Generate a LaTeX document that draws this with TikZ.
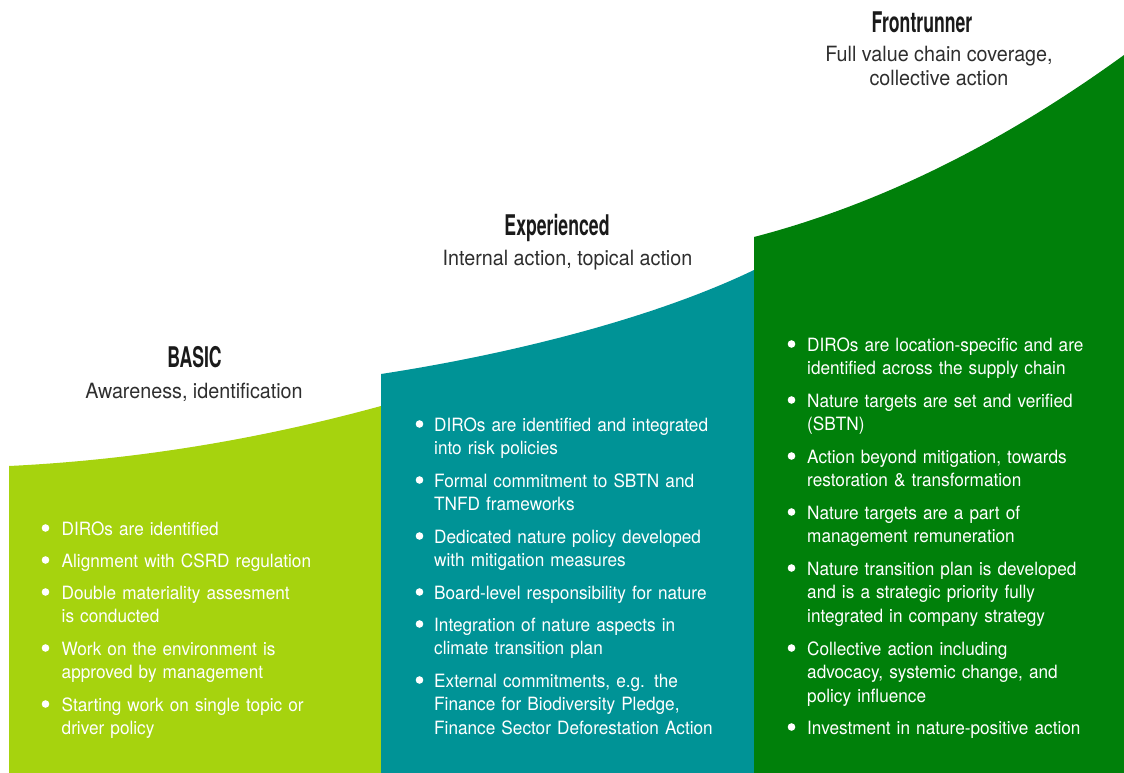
\documentclass[tikz,border=0pt]{standalone}
\usepackage{fontspec}
\setmainfont{TeX Gyre Heros}[FakeStretch=0.94]
\newfontfamily\headfont{TeX Gyre Heros}[FakeStretch=0.62]
\definecolor{limegreen}{HTML}{A6D30E}
\definecolor{tealstep}{HTML}{009396}
\definecolor{deepgreen}{HTML}{00800A}
\definecolor{inkgray}{HTML}{2E2E2E}
\definecolor{inkdark}{HTML}{1A1A1A}
\begin{document}
\begin{tikzpicture}[x=1pt,y=-1pt,
  stagetitle/.style={anchor=base,inner sep=0pt,text=inkdark,font={\headfont\bfseries\fontsize{28.5}{30}\selectfont}},
  stagesub/.style={anchor=base,inner sep=0pt,text=inkgray,font={\fontsize{21}{24}\selectfont}},
  item/.style={anchor=base west,inner sep=0pt,text=white,text width=300pt,align=left,font={\fontsize{18.3}{23.7}\selectfont}},
  dot/.style={fill=white}]
\useasboundingbox (0,0) rectangle (1124,773);

% three rising steps
\fill[limegreen] (9,773) -- (9,466) .. controls (133,460) and (257,440) .. (381,406) -- (381,773) -- cycle;
\fill[tealstep] (381,773) -- (381,374) .. controls (505,355) and (650,320) .. (754,270) -- (754,773) -- cycle;
\fill[deepgreen] (754,773) -- (754,237) .. controls (877,205) and (1000,145) .. (1124,55) -- (1124,773) -- cycle;

% stage headings
\node[stagetitle] (basic) at (194.5,367) {BASIC};
\node[stagesub] (basicsub) at (194,398) {Awareness, identification};
\node[stagetitle] (exp) at (557,235) {Experienced};
\node[stagesub] (expsub) at (567.5,265) {Internal action, topical action};
\node[stagetitle] (front) at (922,33) {Frontrunner};
\node[stagesub] (frontsubA) at (939,62) {Full value chain coverage,};
\node[stagesub] (frontsubB) at (939,86) {collective action};

% basic level items
\foreach \y/\n/\t in {535/b1/{DIROs are identified},
                      567/b2/{Alignment with CSRD regulation},
                      599/b3/{Double materiality assesment\\is conducted},
                      655/b4/{Work on the environment is\\approved by management},
                      711/b5/{Starting work on single topic or\\driver policy}}{
  \node[item] (\n) at (61.5,\y) {\t};
  \fill[dot] (45.5,\y-7) circle (3.8);
}

% experienced level items
\foreach \y/\n/\t in {431/e1/{DIROs are identified and integrated\\into risk policies},
                      487/e2/{Formal commitment to SBTN and\\TNFD frameworks},
                      543/e3/{Dedicated nature policy developed\\with mitigation measures},
                      599/e4/{Board-level responsibility for nature},
                      631/e5/{Integration of nature aspects in\\climate transition plan},
                      687/e6/{External commitments, e.g. the\\Finance for Biodiversity Pledge,\\Finance Sector Deforestation Action}}{
  \node[item] (\n) at (434,\y) {\t};
  \fill[dot] (419.5,\y-7) circle (3.8);
}

% frontrunner level items
\foreach \y/\n/\t in {351/f1/{DIROs are location-specific and are\\identified across the supply chain},
                      407/f2/{Nature targets are set and verified\\(SBTN)},
                      463/f3/{Action beyond mitigation, towards\\restoration \& transformation},
                      519/f4/{Nature targets are a part of\\management remuneration},
                      575/f5/{Nature transition plan is developed\\and is a strategic priority fully\\integrated in company strategy},
                      655/f6/{Collective action including\\advocacy, systemic change, and\\policy influence},
                      734/f7/{Investment in nature-positive action}}{
  \node[item] (\n) at (807,\y) {\t};
  \fill[dot] (791.5,\y-7) circle (3.8);
}
\end{tikzpicture}
\end{document}
